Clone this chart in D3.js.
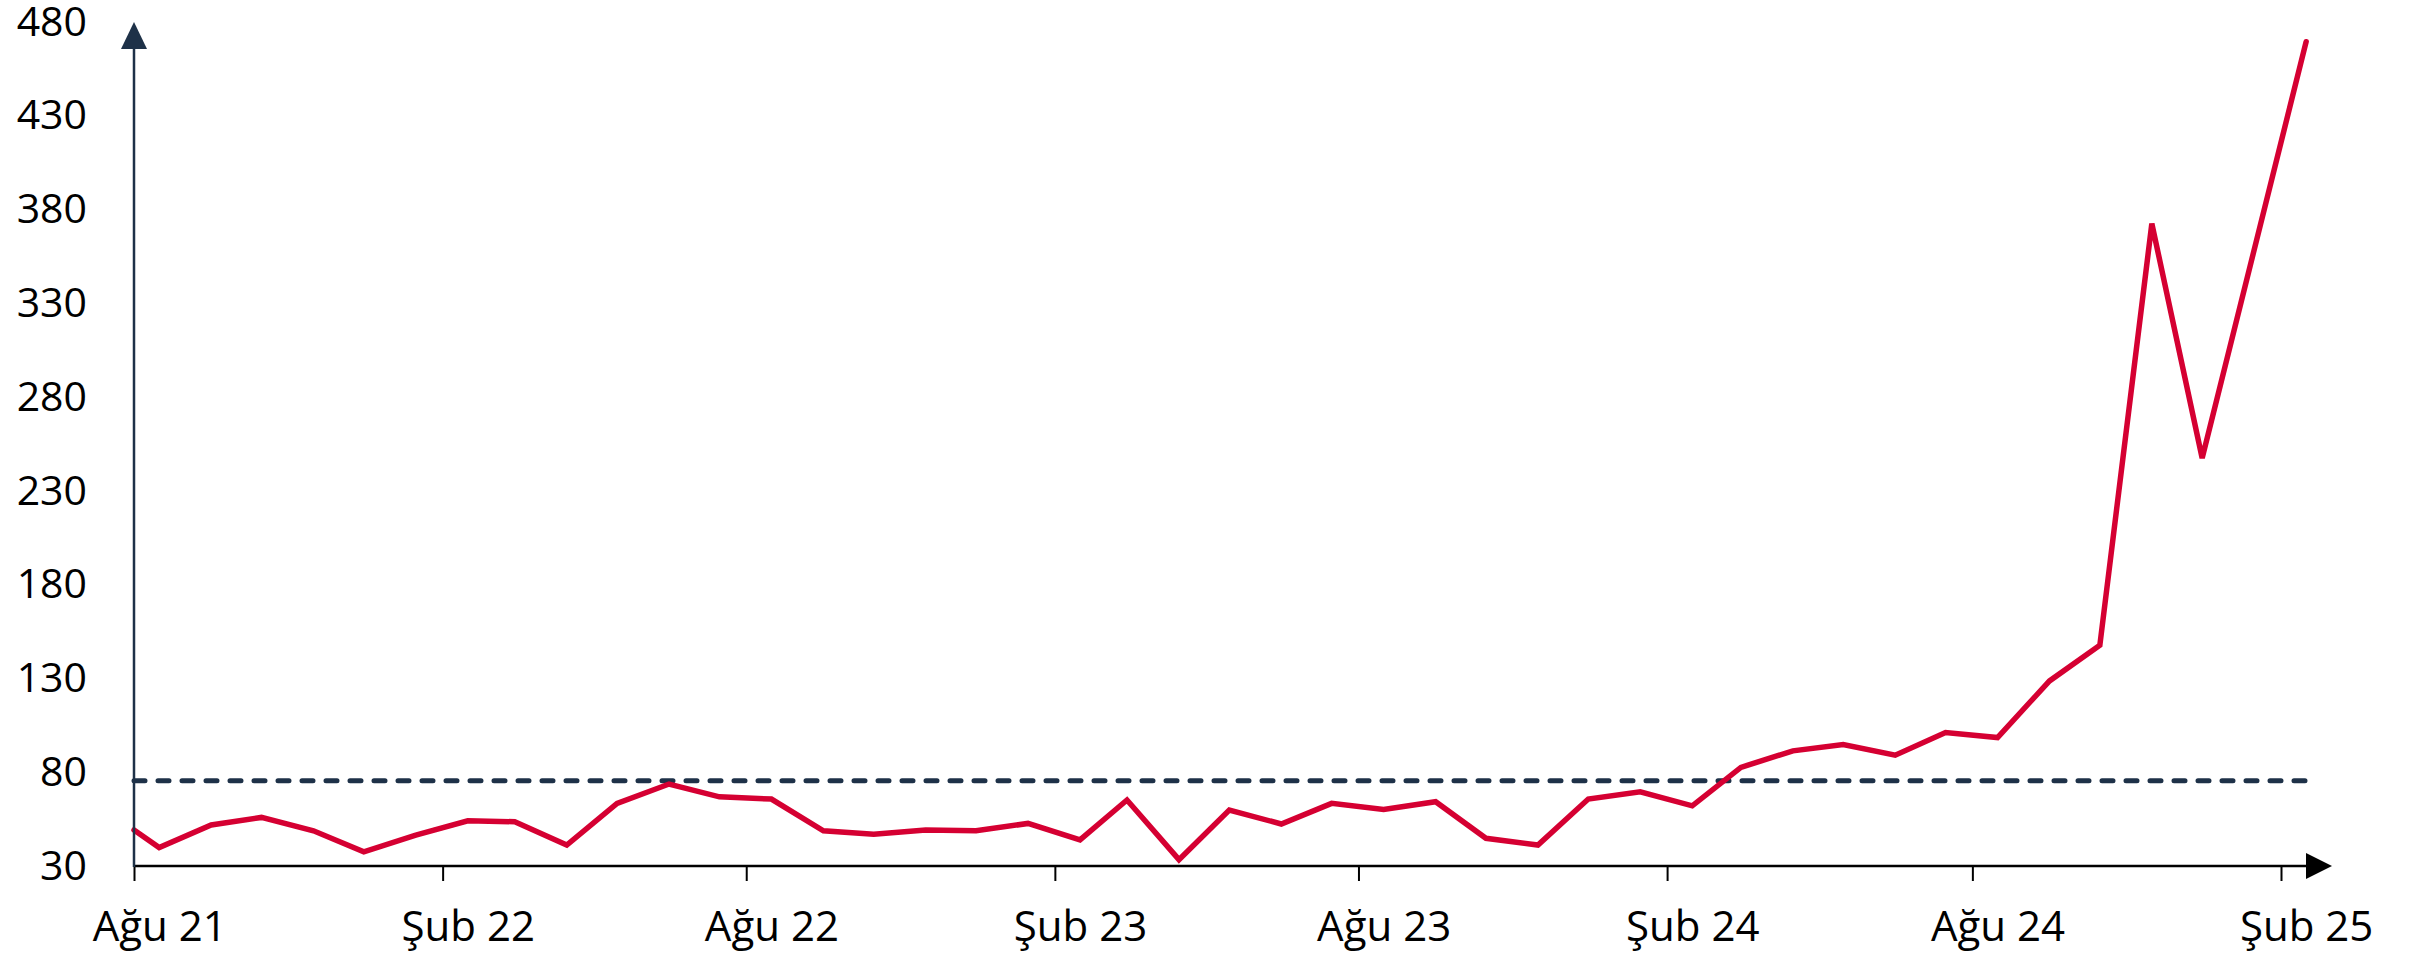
<!DOCTYPE html>
<html>
<head>
<meta charset="utf-8">
<script src="https://cdn.jsdelivr.net/npm/d3@7"></script>
<style>
  html, body { margin: 0; padding: 0; background: #fff; }
  svg { display: block; }
  text { font-family: "Open Sans", "Noto Sans", sans-serif; fill: #000; }
</style>
</head>
<body>
<svg id="chart" width="2420" height="957"></svg>
<script>
// ---- data ----
const dates = [
  "2021-08-01","2021-08-16","2021-09-16","2021-10-16","2021-11-16","2021-12-16",
  "2022-01-16","2022-02-16","2022-03-16","2022-04-16","2022-05-16","2022-06-16",
  "2022-07-16","2022-08-16","2022-09-16","2022-10-16","2022-11-16","2022-12-16",
  "2023-01-16","2023-02-16","2023-03-16","2023-04-16","2023-05-16","2023-06-16",
  "2023-07-16","2023-08-16","2023-09-16","2023-10-16","2023-11-16","2023-12-16",
  "2024-01-16","2024-02-16","2024-03-16","2024-04-16","2024-05-16","2024-06-16",
  "2024-07-16","2024-08-16","2024-09-16","2024-10-16","2024-11-16","2024-12-16",
  "2025-02-16"
];
const values = [
  49.2, 39.8, 51.9, 55.9, 48.8, 37.6,
  46.5, 54.1, 53.6, 41.2, 63.4, 73.7,
  66.9, 65.7, 48.8, 46.9, 49.2, 48.8,
  52.7, 43.9, 65.2, 33.4, 59.8, 52.4,
  63.4, 60.2, 64.3, 44.8, 41.2, 65.7,
  69.6, 62.1, 82.6, 91.4, 94.8, 89.1,
  101.2, 98.5, 128.7, 147.7, 372.5, 247.5,
  469.5
];
const referenceValue = 75.5;
const xTickDates = ["2021-08-01","2022-02-01","2022-08-01","2023-02-01","2023-08-01","2024-02-01","2024-08-01","2025-02-01"];
const xTickLabels = ["Ağu 21","Şub 22","Ağu 22","Şub 23","Ağu 23","Şub 24","Ağu 24","Şub 25"];
const yTicks = [30, 80, 130, 180, 230, 280, 330, 380, 430, 480];

// ---- layout ----
const svg = d3.select("#chart");
const parse = d3.utcParse("%Y-%m-%d");
const x0 = 134, x1 = 2281;     // Aug 21 .. Feb 25 tick positions
const yBottom = 866, yTop = 22;

const x = d3.scaleUtc()
  .domain([parse("2021-08-01"), parse("2025-02-01")])
  .range([x0, x1]);
const y = d3.scaleLinear().domain([30, 480]).range([yBottom, yTop]);

const data = dates.map((d, i) => ({ date: parse(d), value: values[i] }));

const navy = "#1e3148";
const red = "#d50032";

// reference dashed line
const refEnd = parse("2025-02-16");
svg.append("line")
  .attr("x1", x0).attr("x2", x(refEnd))
  .attr("y1", y(referenceValue)).attr("y2", y(referenceValue))
  .attr("stroke", navy).attr("stroke-width", 5)
  .attr("stroke-dasharray", "11 13").attr("stroke-linecap", "round");

// data line
const line = d3.line().x(d => x(d.date)).y(d => y(d.value));
svg.append("path")
  .datum(data)
  .attr("d", line)
  .attr("fill", "none")
  .attr("stroke", red)
  .attr("stroke-width", 5.5)
  .attr("stroke-linejoin", "miter")
  .attr("stroke-linecap", "round");

// x axis
const xAxis = d3.axisBottom(x)
  .tickValues(xTickDates.map(parse))
  .tickSize(15)
  .tickPadding(30)
  .tickFormat((d, i) => xTickLabels[i]);
const gx = svg.append("g").attr("transform", `translate(0,${yBottom})`).call(xAxis);
gx.select(".domain").remove();
gx.selectAll(".tick line").attr("stroke", "#000").attr("stroke-width", 2);
gx.selectAll(".tick text")
  .attr("font-size", 42)
  .attr("fill", "#000")
  .attr("x", d => x(d3.utcDay.offset(d, 15)) - x(d));

svg.append("line")
  .attr("x1", x0).attr("x2", 2308)
  .attr("y1", yBottom).attr("y2", yBottom)
  .attr("stroke", "#000").attr("stroke-width", 2.5);
svg.append("path")
  .attr("d", `M2306,${yBottom - 13}L2332,${yBottom}L2306,${yBottom + 13}Z`)
  .attr("fill", "#000");

// y axis
const yAxis = d3.axisLeft(y).tickValues(yTicks).tickSize(0).tickPadding(47);
const gy = svg.append("g").attr("transform", `translate(${x0},0)`).call(yAxis);
gy.select(".domain").remove();
gy.selectAll(".tick text").attr("font-size", 41).attr("fill", "#000");

svg.append("line")
  .attr("x1", x0).attr("x2", x0)
  .attr("y1", yBottom + 1).attr("y2", 47)
  .attr("stroke", navy).attr("stroke-width", 2.5);
svg.append("path")
  .attr("d", `M${x0 - 13},49L${x0},22L${x0 + 13},49Z`)
  .attr("fill", navy);
</script>
</body>
</html>
